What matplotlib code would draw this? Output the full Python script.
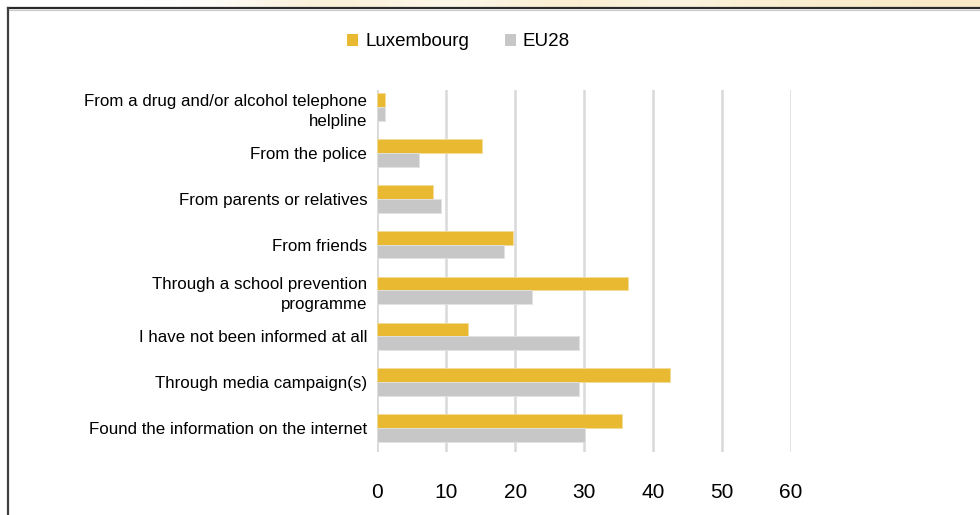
import matplotlib
matplotlib.use("Agg")
import matplotlib.pyplot as plt
import numpy as np
from matplotlib.lines import Line2D
from matplotlib.patches import Patch

plt.rcParams['font.family'] = ['Liberation Sans', 'DejaVu Sans']

categories = [
    "From a drug and/or alcohol telephone\nhelpline",
    "From the police",
    "From parents or relatives",
    "From friends",
    "Through a school prevention\nprogramme",
    "I have not been informed at all",
    "Through media campaign(s)",
    "Found the information on the internet",
]
luxembourg = [1.1, 15.2, 8.1, 19.7, 36.4, 13.2, 42.5, 35.5]
eu28 = [1.1, 6.1, 9.2, 18.4, 22.4, 29.3, 29.3, 30.1]
xticks = [0, 10, 20, 30, 40, 50, 60]

LUX_C = "#E9B931"
EU_C = "#C7C7C7"

fig = plt.figure(figsize=(9.8, 5.15), dpi=100)
fig.patch.set_facecolor("white")

# decorative top strip
strip = fig.add_axes([0, 1 - 7.5 / 515, 1, 7.5 / 515])
grad = np.array([[1.0, 1.0, 1.0, 0.85, 0.5, 0.65, 0.8, 0.55, 0.45, 0.7, 0.5, 0.45, 0.4, 0.35]])
strip.imshow(grad, aspect='auto', cmap=matplotlib.colors.LinearSegmentedColormap.from_list(
    "y", ["#F5DFA8", "#FFFFFF"]), vmin=0, vmax=1, interpolation='bicubic', extent=[0, 1, 0, 1])
strip.set_axis_off()

# frame lines
fig.add_artist(Line2D([7.5 / 980, 1], [1 - 7.5 / 515, 1 - 7.5 / 515], color="#2A2A2A", lw=1.6,
                      transform=fig.transFigure))
fig.add_artist(Line2D([7.5 / 980, 1], [1 - 9.5 / 515, 1 - 9.5 / 515], color="#C8C8C8", lw=0.8,
                      transform=fig.transFigure))
fig.add_artist(Line2D([7.5 / 980, 7.5 / 980], [0, 1 - 7.5 / 515], color="#404040", lw=1.6,
                      transform=fig.transFigure))

ax = fig.add_axes([377.3 / 980, 63.3 / 515, (790.9 - 377.3) / 980, (451.7 - 90) / 515])
y = np.arange(len(categories))
h = 0.30
ax.barh(y - h / 2, luxembourg, height=h, color=LUX_C, edgecolor="#F3DC9A", linewidth=0.6, zorder=3)
ax.barh(y + h / 2, eu28, height=h, color=EU_C, edgecolor="#E2E2E2", linewidth=0.6, zorder=3)

ax.set_xlim(0, 60)
ax.set_ylim(7.52, -0.376)
ax.set_xticks(xticks)
ax.set_xticklabels([str(t) for t in xticks], fontsize=15)
ax.set_yticks(y)
ax.set_yticklabels(categories, fontsize=12.2, multialignment='right', linespacing=1.45)
ax.tick_params(axis='x', length=0, pad=22.5, colors="#000000")
ax.tick_params(axis='y', length=0, pad=7.2)
ax.xaxis.grid(True, color="#D9D9D9", linewidth=1.8, zorder=0)
ax.set_axisbelow(True)
for s in ax.spines.values():
    s.set_visible(False)
ax.axvline(0, color="#D9D9D9", linewidth=1.8, zorder=1)

handles = [Patch(facecolor=LUX_C, edgecolor='none'), Patch(facecolor=EU_C, edgecolor='none')]
fig.legend(handles, ["Luxembourg", "EU28"], loc='center', bbox_to_anchor=(458.5 / 980, 1 - 42 / 515),
           ncol=2, frameon=False, fontsize=13.5, handlelength=0.59, handleheight=0.59,
           handletextpad=0.37, columnspacing=1.9)

fig.savefig("out.png", dpi=100, facecolor="white")
